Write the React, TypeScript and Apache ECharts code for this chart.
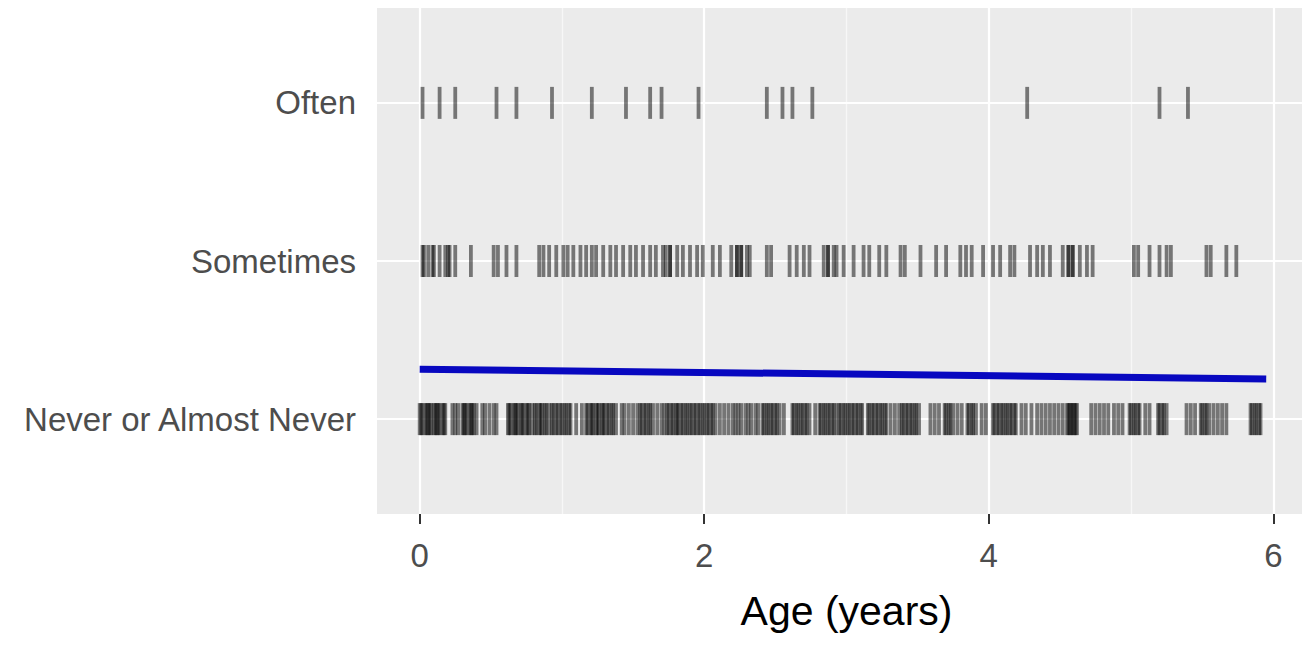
import React, { useEffect, useRef } from "react";
import * as echarts from "echarts";

// Category levels (bottom to top) and their positions on the y scale
const CATEGORIES = ["Never or Almost Never", "Sometimes", "Often"];
const CAT_POS = [1, 2, 3];

// Axis ticks / grid
const X_TICKS = [0, 2, 4, 6];
const X_MINOR = [1, 3, 5];

// Rug data: ages (years) of observations in each response group
const OFTEN_AGES = [
  0.02, 0.14, 0.25, 0.54, 0.68, 0.93, 1.21, 1.45, 1.62, 1.7, 1.96, 2.44, 2.55,
  2.62, 2.76, 4.27, 5.2, 5.4,
];

const SOMETIMES_AGES = [
  0.02, 0.03, 0.06, 0.09, 0.1, 0.14, 0.18, 0.2, 0.21, 0.25, 0.36, 0.52, 0.55,
  0.61, 0.68, 0.84, 0.87, 0.91, 0.96, 1.01, 1.04, 1.08, 1.13, 1.17, 1.21, 1.24,
  1.29, 1.34, 1.38, 1.43, 1.48, 1.52, 1.57, 1.62, 1.66, 1.71, 1.73, 1.76, 1.76,
  1.81, 1.85, 1.9, 1.95, 1.99, 2.06, 2.11, 2.19, 2.23, 2.23, 2.26, 2.26, 2.3,
  2.32, 2.44, 2.47, 2.6, 2.65, 2.7, 2.74, 2.84, 2.87, 2.87, 2.91, 2.93, 2.98,
  3.05, 3.12, 3.16, 3.23, 3.28, 3.38, 3.41, 3.52, 3.63, 3.7, 3.8, 3.84, 3.88,
  3.96, 4.03, 4.08, 4.15, 4.18, 4.29, 4.34, 4.38, 4.43, 4.52, 4.56, 4.56, 4.59,
  4.59, 4.64, 4.69, 4.73, 5.02, 5.05, 5.13, 5.2, 5.25, 5.28, 5.53, 5.56, 5.67,
  5.74,
];

const NEVER_AGES = [
  0.0, 0.01, 0.02, 0.04, 0.05, 0.06, 0.07, 0.08, 0.1, 0.11, 0.12, 0.13, 0.14,
  0.16, 0.17, 0.18, 0.23, 0.25, 0.27, 0.3, 0.31, 0.32, 0.33, 0.35, 0.36, 0.37,
  0.38, 0.4, 0.44, 0.46, 0.49, 0.52, 0.54, 0.62, 0.63, 0.64, 0.66, 0.67, 0.68,
  0.69, 0.71, 0.72, 0.73, 0.75, 0.76, 0.77, 0.79, 0.81, 0.82, 0.84, 0.85, 0.86,
  0.88, 0.89, 0.91, 0.93, 0.94, 0.96, 0.97, 0.99, 1.0, 1.02, 1.03, 1.05, 1.06,
  1.1, 1.14, 1.17, 1.18, 1.2, 1.21, 1.22, 1.24, 1.25, 1.26, 1.28, 1.29, 1.3,
  1.32, 1.33, 1.35, 1.36, 1.38, 1.42, 1.44, 1.47, 1.5, 1.53, 1.55, 1.56, 1.58,
  1.59, 1.61, 1.62, 1.64, 1.67, 1.7, 1.72, 1.74, 1.75, 1.77, 1.78, 1.8, 1.81,
  1.82, 1.84, 1.85, 1.87, 1.88, 1.9, 1.91, 1.93, 1.94, 1.96, 1.97, 1.99, 2.0,
  2.02, 2.03, 2.05, 2.06, 2.08, 2.11, 2.14, 2.17, 2.2, 2.22, 2.24, 2.26, 2.29,
  2.31, 2.33, 2.36, 2.38, 2.41, 2.42, 2.44, 2.45, 2.47, 2.48, 2.5, 2.51, 2.53,
  2.56, 2.62, 2.63, 2.65, 2.66, 2.68, 2.69, 2.71, 2.72, 2.74, 2.78, 2.81, 2.82,
  2.84, 2.85, 2.87, 2.88, 2.9, 2.91, 2.93, 2.95, 2.96, 2.98, 2.99, 3.01, 3.02,
  3.04, 3.05, 3.07, 3.08, 3.1, 3.11, 3.15, 3.16, 3.18, 3.19, 3.21, 3.22, 3.24,
  3.25, 3.27, 3.28, 3.31, 3.34, 3.37, 3.39, 3.4, 3.42, 3.43, 3.45, 3.46, 3.48,
  3.49, 3.51, 3.59, 3.62, 3.65, 3.69, 3.7, 3.72, 3.73, 3.75, 3.78, 3.81, 3.85,
  3.86, 3.88, 3.89, 3.91, 3.95, 3.98, 4.03, 4.04, 4.06, 4.07, 4.09, 4.1, 4.12,
  4.13, 4.15, 4.16, 4.18, 4.19, 4.23, 4.26, 4.3, 4.34, 4.37, 4.4, 4.43, 4.46,
  4.49, 4.52, 4.55, 4.56, 4.57, 4.58, 4.59, 4.6, 4.61, 4.62, 4.72, 4.75, 4.78,
  4.81, 4.84, 4.88, 4.91, 4.94, 4.99, 5.0, 5.02, 5.03, 5.05, 5.06, 5.1, 5.13,
  5.19, 5.2, 5.22, 5.23, 5.25, 5.39, 5.42, 5.45, 5.49, 5.5, 5.52, 5.53, 5.55,
  5.58, 5.61, 5.64, 5.67, 5.84, 5.85, 5.87, 5.88, 5.9, 5.91,
];

// Fitted trend line (age -> mean response score)
const TREND_X = [0, 5.95];
const TREND_Y = [1.316, 1.254];

const FONT = "'Liberation Sans', Arial, Helvetica, sans-serif";

export default function App() {
  const ref = useRef<HTMLDivElement>(null);

  useEffect(() => {
    if (!ref.current) return;
    const chart = echarts.init(ref.current, null, { renderer: "svg" });

    const rugSeries = (ages: number[], pos: number) => ({
      type: "scatter",
      silent: true,
      z: 3,
      symbol: "rect",
      symbolSize: [3.8, 32],
      itemStyle: { color: "#000000", opacity: 0.5 },
      data: ages.map((a) => [a, pos]),
    });

    const option = {
      animation: false,
      backgroundColor: "#FFFFFF",
      grid: {
        left: 377,
        right: -14,
        top: 8,
        bottom: 134,
        show: true,
        backgroundColor: "#EBEBEB",
        borderWidth: 0,
        containLabel: false,
        outerBoundsMode: "none",
      },
      xAxis: {
        type: "value",
        min: -0.3,
        max: 6.3,
        axisLine: { show: false },
        splitLine: { show: false },
        axisTick: {
          show: true,
          customValues: X_TICKS,
          length: 10,
          lineStyle: { color: "#333333", width: 2 },
        },
        axisLabel: {
          customValues: X_TICKS,
          margin: 25,
          color: "#4D4D4D",
          fontSize: 33,
          fontFamily: FONT,
        },
        name: "Age (years)",
        nameLocation: "middle",
        nameGap: 76,
        nameTextStyle: { color: "#000000", fontSize: 41, fontFamily: FONT },
      },
      yAxis: {
        type: "value",
        min: 0.4,
        max: 3.6,
        axisLine: { show: false },
        splitLine: { show: false },
        axisTick: {
          show: true,
          customValues: CAT_POS,
          length: 10,
          lineStyle: { color: "#333333", width: 2 },
        },
        axisLabel: {
          customValues: CAT_POS,
          margin: 21,
          color: "#4D4D4D",
          fontSize: 33,
          fontFamily: FONT,
          formatter: (v: number) => CATEGORIES[CAT_POS.indexOf(Math.round(v))] ?? "",
        },
      },
      series: [
        {
          type: "line",
          data: [],
          silent: true,
          z: 1,
          markLine: {
            silent: true,
            z: 1,
            symbol: ["none", "none"],
            label: { show: false },
            animation: false,
            data: [
              ...X_TICKS.map((v) => ({ xAxis: v, lineStyle: { color: "#FFFFFF", width: 2.2, type: "solid" } })),
              ...X_MINOR.map((v) => ({ xAxis: v, lineStyle: { color: "#F7F7F7", width: 1.2, type: "solid" } })),
              ...CAT_POS.map((v) => ({ yAxis: v, lineStyle: { color: "#FFFFFF", width: 2.2, type: "solid" } })),
            ],
          },
        },
        rugSeries(OFTEN_AGES, CAT_POS[2]),
        rugSeries(SOMETIMES_AGES, CAT_POS[1]),
        rugSeries(NEVER_AGES, CAT_POS[0]),
        {
          type: "line",
          silent: true,
          z: 4,
          showSymbol: false,
          symbol: "none",
          lineStyle: { color: "#0808C0", width: 7 },
          data: TREND_X.map((x, i) => [x, TREND_Y[i]]),
        },
      ],
    };

    chart.setOption(option as any);
    return () => chart.dispose();
  }, []);

  return (
    <div
      ref={ref}
      style={{ position: "absolute", left: 0, top: 0, width: 1302, height: 648 }}
    />
  );
}
